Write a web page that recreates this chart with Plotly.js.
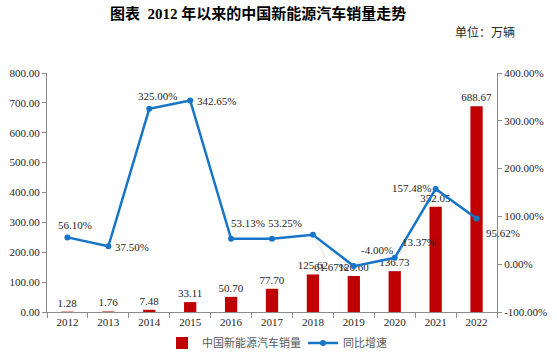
<!DOCTYPE html>
<html><head><meta charset="utf-8">
<script src="https://cdn.plot.ly/plotly-3.0.1.min.js"></script>
<style>html,body{margin:0;padding:0;background:#fff}#chart{width:557px;height:355px}</style>
</head><body><div id="chart"></div>
<script>
const years = [2012, 2013, 2014, 2015, 2016, 2017, 2018, 2019, 2020, 2021, 2022];
const sales = [1.28, 1.76, 7.48, 33.11, 50.70, 77.70, 125.62, 120.60, 136.73, 352.05, 688.67];
const growth = [56.10, 37.50, 325.00, 342.65, 53.13, 53.25, 61.67, -4.00, 13.37, 157.48, 95.62];
const salesName = '中国新能源汽车销量';
const growthName = '同比增速';
const titleText = '图表  2012 年以来的中国新能源汽车销量走势';
const unitText = '单位：万辆';

// label offsets (pixels) for growth labels
const offsets = [[8,-12],[24,1],[8,-13],[26,1],[17,-16],[13,-16],[18,32],[23,-16],[24,-16],[-24,-1],[26,15]];

const FONT = 'Liberation Serif, Times New Roman, Noto Sans CJK SC, serif';

const traces = [
  {type:'bar', x:years, y:sales, name:salesName, marker:{color:'#C00000'}, width:0.3,
   text:sales.map(v=>v.toFixed(2)), textposition:'outside', cliponaxis:false, constraintext:'none',
   textfont:{family:FONT, size:11, color:'#262626'}, hoverinfo:'none'},
  {type:'scatter', mode:'lines+markers', x:years, y:growth, name:growthName, yaxis:'y2',
   line:{color:'#1874C6', width:2.5}, marker:{color:'#1874C6', size:6}, cliponaxis:false, hoverinfo:'none'}
];

const annotations = growth.map((g,i)=>({
  x:years[i], y:g, xref:'x', yref:'y2', text:g.toFixed(2)+'%',
  showarrow:true, arrowhead:0, arrowwidth:0.6, arrowcolor:'#d0d0d0',
  ax:offsets[i][0], ay:offsets[i][1], standoff:3,
  font:{family:FONT, size:11, color:'#262626'}
}));
// paper coords: plot area spans x 47..497 px, y 73..312 px
annotations.push({xref:'paper', yref:'paper', x:(258-47)/450, y:(312-14)/239, xanchor:'center', yanchor:'middle',
  text:'<b>'+titleText+'</b>', showarrow:false, font:{family:'Liberation Serif, Noto Sans CJK SC', size:15, color:'#000'}});
annotations.push({xref:'paper', yref:'paper', x:(517-47)/450, y:(312-31)/239, xanchor:'right', yanchor:'middle',
  text:unitText, showarrow:false, font:{family:'Noto Sans CJK SC, Liberation Serif', size:12, color:'#262626'}});

const bounds = years.map(y=>y-0.5).concat([years[years.length-1]+0.5]);

const layout = {
  width:557, height:355, margin:{l:47, r:60, t:73, b:43, autoexpand:false},
  paper_bgcolor:'#fff', plot_bgcolor:'#fff',
  showlegend:true,
  legend:{orientation:'h', xref:'container', yref:'container', x:303/557, xanchor:'center', y:1-343/355, yanchor:'middle',
    entrywidth:96, itemwidth:30, tracegroupgap:0,
    font:{family:'Noto Sans CJK SC, Liberation Serif', size:11, color:'#595959'}},
  xaxis:{range:[2011.5, 2022.5], tickvals:years, ticktext:years.map(String), ticks:'', showline:true,
    linecolor:'#8c8c8c', linewidth:1, showgrid:false, zeroline:false,
    minor:{tickvals:bounds, ticks:'outside', ticklen:5, tickcolor:'#8c8c8c', showgrid:false},
    tickfont:{family:FONT, size:11, color:'#262626'}},
  yaxis:{range:[0,800], dtick:100, tickformat:'.2f', showline:true, linecolor:'#8c8c8c', ticks:'outside', ticklen:4,
    tickcolor:'#8c8c8c', showgrid:false, zeroline:false, tickfont:{family:FONT, size:11, color:'#262626'}},
  yaxis2:{range:[-100,400], overlaying:'y', side:'right', showline:true, linecolor:'#8c8c8c', ticks:'outside',
    ticklen:4, tickcolor:'#8c8c8c', showgrid:false, zeroline:false,
    tickvals:[-100,0,100,200,300,400], ticktext:['-100.00%','0.00%','100.00%','200.00%','300.00%','400.00%'],
    tickfont:{family:FONT, size:11, color:'#262626'}},
  annotations:annotations
};
Plotly.newPlot('chart', traces, layout, {displayModeBar:false, staticPlot:true});
</script></body></html>
